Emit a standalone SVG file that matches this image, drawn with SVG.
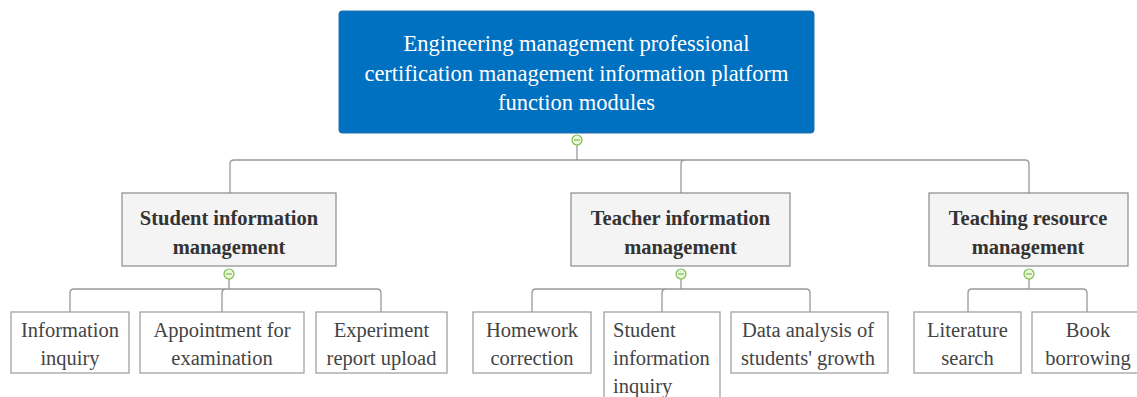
<svg xmlns="http://www.w3.org/2000/svg" width="1137" height="397" viewBox="0 0 1137 397">
<style>
.root{fill:#0070C0;stroke:#2a6aa8;stroke-width:1}
.l2{fill:#f4f4f4;stroke:#8a8a8a;stroke-width:1.2}
.l3{fill:#ffffff;stroke:#9a9a9a;stroke-width:1.2}
.conn{fill:none;stroke:#999;stroke-width:1.3}
.tr{font-family:"Liberation Serif","Times New Roman",serif;font-size:22.5px;fill:#ffffff;text-anchor:middle}
.t2{font-family:"Liberation Serif","Times New Roman",serif;font-size:20.5px;font-weight:bold;fill:#333;text-anchor:middle}
.t3{font-family:"Liberation Serif","Times New Roman",serif;font-size:20.5px;fill:#444;text-anchor:middle}
.t3s{font-family:"Liberation Serif","Times New Roman",serif;font-size:20.5px;fill:#444;text-anchor:start}
.tog circle{fill:#eaf6dd;stroke:#7cbf4a;stroke-width:1.2}
.tog line{stroke:#7cbf4a;stroke-width:1.2}
</style>
<defs>
<g id="toggle" class="tog"><circle cx="0" cy="0" r="5"/><line x1="-3" y1="0" x2="3" y2="0"/></g>
</defs>
<rect width="1137" height="397" fill="#ffffff"/>
<g id="connectors">
<path class="conn" d="M577,145 V160 M234,160 H1025 M230,193 V164 Q230,160 234,160 M681,193 V164 Q681,160 685,160 M1025,160 Q1029,160 1029,164 V193"/>
<path class="conn" d="M229,279 V289 M74,289 H377 M70,312 V293 Q70,289 74,289 M222,312 V293 Q222,289 226,289 M377,289 Q381,289 381,293 V312"/>
<path class="conn" d="M681,279 V289 M536,289 H806 M532,312 V293 Q532,289 536,289 M662,312 V293 Q662,289 666,289 M806,289 Q810,289 810,293 V312"/>
<path class="conn" d="M1029,279 V289 M972,289 H1083 M968,312 V293 Q968,289 972,289 M1083,289 Q1087,289 1087,293 V312"/>
</g>
<g id="root">
<rect class="root" x="339" y="11" width="475" height="122" rx="3"/>
<text class="tr" x="576.5" y="51">Engineering management professional</text>
<text class="tr" x="576.5" y="81">certification management information platform</text>
<text class="tr" x="576.5" y="110">function modules</text>
<use href="#toggle" x="577" y="140"/>
</g>
<g id="student-mgmt">
<rect class="l2" x="122" y="193" width="214" height="73"/>
<text class="t2" x="229" y="225">Student information</text>
<text class="t2" x="229" y="254">management</text>
<use href="#toggle" x="229" y="274"/>
</g>
<g id="teacher-mgmt">
<rect class="l2" x="571" y="193" width="219" height="73"/>
<text class="t2" x="680.5" y="225">Teacher information</text>
<text class="t2" x="680.5" y="254">management</text>
<use href="#toggle" x="681" y="274"/>
</g>
<g id="resource-mgmt">
<rect class="l2" x="929" y="193" width="199" height="73"/>
<text class="t2" x="1028" y="225">Teaching resource</text>
<text class="t2" x="1028" y="254">management</text>
<use href="#toggle" x="1029" y="274"/>
</g>
<g id="info-inquiry">
<rect class="l3" x="11" y="312" width="118" height="61"/>
<text class="t3" x="70" y="337">Information</text>
<text class="t3" x="70" y="365">inquiry</text>
</g>
<g id="appointment">
<rect class="l3" x="140" y="312" width="164" height="61"/>
<text class="t3" x="222" y="337">Appointment for</text>
<text class="t3" x="222" y="365">examination</text>
</g>
<g id="experiment">
<rect class="l3" x="316" y="312" width="131" height="61"/>
<text class="t3" x="381.5" y="337">Experiment</text>
<text class="t3" x="381.5" y="365">report upload</text>
</g>
<g id="homework">
<rect class="l3" x="473" y="312" width="118" height="61"/>
<text class="t3" x="532" y="337">Homework</text>
<text class="t3" x="532" y="365">correction</text>
</g>
<g id="student-info-inquiry">
<rect class="l3" x="604" y="312" width="116" height="100"/>
<text class="t3s" x="613" y="337">Student</text>
<text class="t3s" x="613" y="365">information</text>
<text class="t3s" x="613" y="393">inquiry</text>
</g>
<g id="data-analysis">
<rect class="l3" x="731" y="312" width="157" height="61"/>
<text class="t3" x="808" y="337">Data analysis of</text>
<text class="t3" x="808" y="365">students' growth</text>
</g>
<g id="literature">
<rect class="l3" x="914" y="312" width="107" height="61"/>
<text class="t3" x="967.5" y="337">Literature</text>
<text class="t3" x="967.5" y="365">search</text>
</g>
<g id="book">
<rect class="l3" x="1032" y="312" width="110" height="61"/>
<text class="t3" x="1088" y="337">Book</text>
<text class="t3" x="1088" y="365">borrowing</text>
</g>
</svg>
